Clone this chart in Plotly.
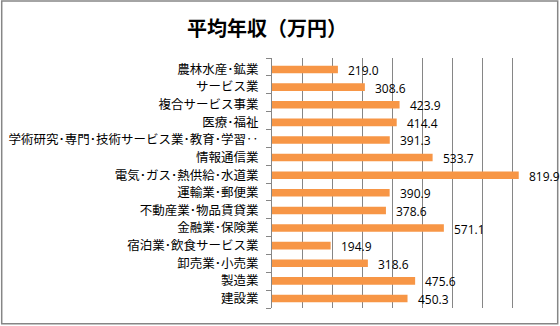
import plotly.graph_objects as go

# 業種別の平均年収(万円)
categories = [
    "農林水産･鉱業",
    "サービス業",
    "複合サービス事業",
    "医療･福祉",
    "学術研究･専門･技術サービス業･教育･学習‥",
    "情報通信業",
    "電気･ガス･熱供給･水道業",
    "運輸業･郵便業",
    "不動産業･物品賃貸業",
    "金融業･保険業",
    "宿泊業･飲食サービス業",
    "卸売業･小売業",
    "製造業",
    "建設業",
]
salaries = [219.0, 308.6, 423.9, 414.4, 391.3, 533.7, 819.9,
            390.9, 378.6, 571.1, 194.9, 318.6, 475.6, 450.3]

title_text = "平均年収（万円）"

W, H = 560, 326
L, R, T, B = 272.3, 16.7, 58, 17.7
plot_w = W - L - R
plot_h = H - T - B

GRID = "#868686"
JP_FONT = "Noto Sans CJK JP"
n = len(categories)


def px_to_paper_x(px):
    return (px - L) / plot_w


def px_to_paper_y(py):
    return (H - B - py) / plot_h


fig = go.Figure()
fig.add_trace(
    go.Bar(
        x=salaries,
        y=categories,
        orientation="h",
        marker=dict(color="#F79646", line=dict(width=0)),
        hoverinfo="skip",
    )
)
# invisible helper so the overlay axis (category boundary ticks) gets drawn
fig.add_trace(
    go.Scatter(
        x=[0], y=[0], yaxis="y2", mode="markers",
        marker=dict(opacity=0), hoverinfo="skip", showlegend=False,
    )
)

# value labels just past the end of each bar
annotations = [
    dict(
        x=v, y=c, xref="x", yref="y",
        text=f"{v:.1f}", showarrow=False,
        xanchor="left", yanchor="middle", xshift=8, yshift=-1,
        font=dict(family="Open Sans", size=12, color="#000000"),
    )
    for c, v in zip(categories, salaries)
]

annotations.append(
    dict(
        x=px_to_paper_x(267), y=px_to_paper_y(27), xref="paper", yref="paper",
        text=f"<b>{title_text}</b>", showarrow=False,
        xanchor="center", yanchor="middle",
        font=dict(family=JP_FONT, size=20, color="#000000"),
    )
)

fig.update_layout(
    width=W, height=H,
    margin=dict(l=L, r=R, t=T, b=B, pad=0, autoexpand=False),
    paper_bgcolor="white",
    plot_bgcolor="white",
    showlegend=False,
    bargap=0.57,
    annotations=annotations,
    shapes=[
        dict(
            type="rect", xref="paper", yref="paper",
            x0=px_to_paper_x(2), x1=px_to_paper_x(558),
            y0=px_to_paper_y(324), y1=px_to_paper_y(1),
            line=dict(color=GRID, width=1.5), fillcolor="rgba(0,0,0,0)",
            layer="below",
        )
    ],
    xaxis=dict(
        range=[0, 900.5], dtick=100, tick0=0,
        showgrid=True, gridcolor=GRID, gridwidth=1,
        showticklabels=False, zeroline=False, showline=False, ticks="",
        fixedrange=True, automargin=False,
    ),
    yaxis=dict(
        autorange="reversed",
        showline=True, linecolor=GRID, linewidth=1,
        ticks="", showgrid=False,
        ticklabelstandoff=10,
        tickfont=dict(family=JP_FONT, size=12.5, color="#000000"),
        fixedrange=True, automargin=False,
    ),
    yaxis2=dict(
        overlaying="y", side="left", anchor="x",
        range=[n - 0.5, -0.5],
        tickmode="array", tickvals=[i - 0.5 for i in range(n + 1)],
        showticklabels=False,
        ticks="outside", ticklen=5, tickcolor=GRID, tickwidth=1,
        showgrid=False, showline=False, zeroline=False,
        fixedrange=True, automargin=False,
    ),
)

fig.write_html("out.html")
